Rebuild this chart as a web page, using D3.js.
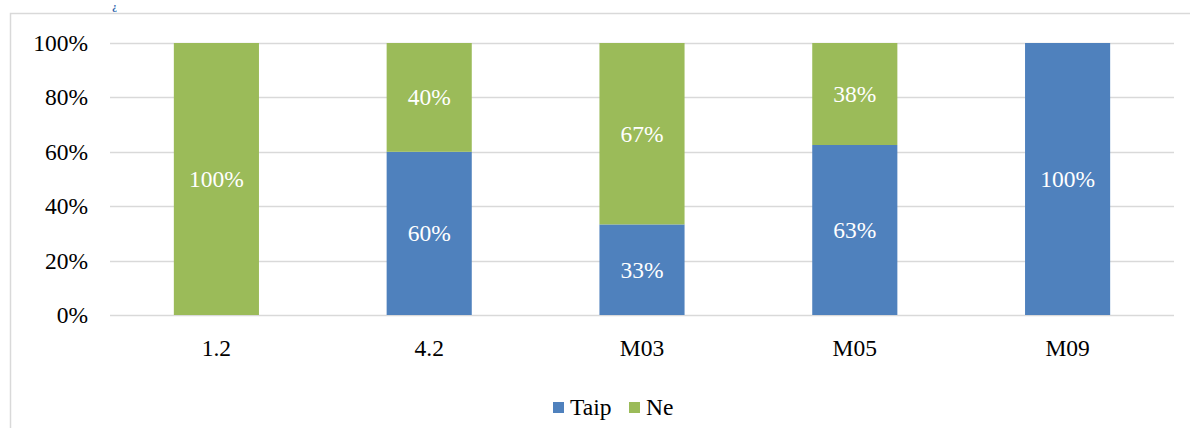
<!DOCTYPE html>
<html>
<head>
<meta charset="utf-8">
<script src="https://cdn.jsdelivr.net/npm/d3@7"></script>
<style>
  html, body { margin: 0; padding: 0; background: #fff; overflow: hidden; }
  svg { display: block; }
</style>
</head>
<body>
<div id="chart"></div>
<script>
// data
const categories = ["1.2", "4.2", "M03", "M05", "M09"];
const taipValues = [0, 60, 33.3, 62.5, 100];
const neValues = [100, 40, 66.7, 37.5, 0];
const taipLabels = ["", "60%", "33%", "63%", "100%"];
const neLabels = ["100%", "40%", "67%", "38%", ""];
const yTicks = [0, 20, 40, 60, 80, 100];
const seriesNames = ["Taip", "Ne"];
const seriesColors = ["#4f81bd", "#9bbb59"];

const width = 1190, height = 428;
const font = "'Liberation Serif', serif";
const fontSize = 23.5;

const svg = d3.select("#chart").append("svg")
    .attr("width", width)
    .attr("height", height);

// title fragment + chart frame
svg.append("text")
    .attr("x", 112).attr("y", 10)
    .attr("font-family", font)
    .attr("font-size", 10)
    .attr("font-weight", "bold")
    .attr("fill", "#1f5ea8")
    .text("¿");

svg.append("rect")
    .attr("x", 10.5).attr("y", 13.5)
    .attr("width", 1300).attr("height", 500)
    .attr("fill", "none")
    .attr("stroke", "#d9d9d9")
    .attr("stroke-width", 1.5);

const x = d3.scaleBand()
    .domain(categories)
    .range([110, 1174])
    .paddingInner(0.6)
    .paddingOuter(0.3);

const y = d3.scaleLinear()
    .domain([0, 100])
    .range([315, 43]);

// gridlines
svg.append("g")
    .selectAll("line")
    .data(yTicks)
    .enter().append("line")
    .attr("x1", 110).attr("x2", 1174)
    .attr("y1", d => Math.round(y(d)) + 0.5)
    .attr("y2", d => Math.round(y(d)) + 0.5)
    .attr("stroke", "#d9d9d9")
    .attr("stroke-width", 1.3);

// y axis labels
svg.append("g")
    .selectAll("text")
    .data(yTicks)
    .enter().append("text")
    .attr("x", 88)
    .attr("y", d => y(d) + 8)
    .attr("text-anchor", "end")
    .attr("font-family", font)
    .attr("font-size", fontSize)
    .attr("fill", "#000")
    .text(d => d + "%");

// x axis labels
svg.append("g")
    .selectAll("text")
    .data(categories)
    .enter().append("text")
    .attr("x", d => x(d) + x.bandwidth() / 2)
    .attr("y", 356)
    .attr("text-anchor", "middle")
    .attr("font-family", font)
    .attr("font-size", fontSize)
    .attr("fill", "#000")
    .text(d => d);

// stacked bars
const rows = categories.map((c, i) => ({ cat: c, Taip: taipValues[i], Ne: neValues[i] }));
const stack = d3.stack().keys(seriesNames)(rows);
const labelSets = [taipLabels, neLabels];

stack.forEach((layer, si) => {
    const g = svg.append("g");
    g.selectAll("rect")
        .data(layer)
        .enter().append("rect")
        .attr("x", d => x(d.data.cat))
        .attr("width", x.bandwidth())
        .attr("y", d => y(d[1]))
        .attr("height", d => y(d[0]) - y(d[1]))
        .attr("fill", seriesColors[si]);

    g.selectAll("text")
        .data(layer)
        .enter().append("text")
        .attr("x", d => x(d.data.cat) + x.bandwidth() / 2)
        .attr("y", d => (y(d[0]) + y(d[1])) / 2 + 8)
        .attr("text-anchor", "middle")
        .attr("font-family", font)
        .attr("font-size", fontSize)
        .attr("fill", "#fff")
        .text((d, i) => labelSets[si][i]);
});

// legend
const legend = svg.append("g");
const legendItems = [
    { name: seriesNames[0], color: seriesColors[0], x: 553 },
    { name: seriesNames[1], color: seriesColors[1], x: 629 }
];
legend.selectAll("rect")
    .data(legendItems)
    .enter().append("rect")
    .attr("x", d => d.x).attr("y", 402)
    .attr("width", 11).attr("height", 11)
    .attr("fill", d => d.color);
legend.selectAll("text")
    .data(legendItems)
    .enter().append("text")
    .attr("x", d => d.x + 17).attr("y", 415)
    .attr("font-family", font)
    .attr("font-size", fontSize)
    .attr("fill", "#000")
    .text(d => d.name);
</script>
</body>
</html>
